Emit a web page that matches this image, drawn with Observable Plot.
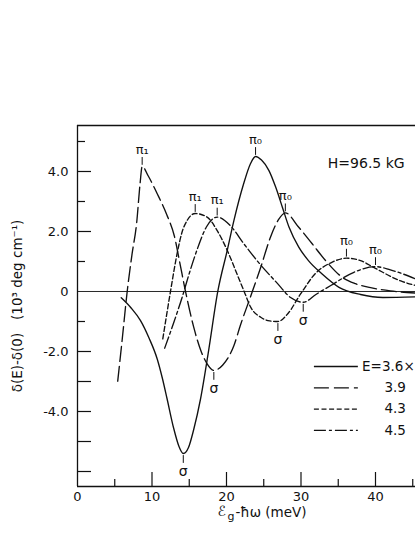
<!DOCTYPE html>
<html>
<head>
<meta charset="utf-8">
<script src="https://cdn.jsdelivr.net/npm/d3@7"></script>
<script src="https://cdn.jsdelivr.net/npm/@observablehq/plot@0.6"></script>
<style>
  html, body { margin: 0; padding: 0; background: #fff; overflow: hidden; }
  #chart svg { display: block; overflow: hidden; }
</style>
</head>
<body>
<div id="chart"></div>
<script>
// ---- data ----
const fieldLabels = ["3.6", "3.9", "4.3", "4.5"];

const e36X = [5.87, 7.2, 8.46, 9.6, 10.7, 11.4, 12.0, 12.9, 13.6, 14.2, 14.9, 15.6, 16.5, 17.6, 18.83, 20.1, 21.0, 22.3, 23.2, 23.9, 24.7, 25.7, 26.6, 27.5, 28.4, 29.7, 31.0, 32.8, 35.1, 38.0, 41.0, 45.4];
const e36Y = [-0.21, -0.55, -0.97, -1.55, -2.25, -2.9, -3.55, -4.55, -5.15, -5.4, -5.2, -4.6, -3.6, -1.97, 0, 1.37, 2.37, 3.59, 4.25, 4.5, 4.38, 4.03, 3.48, 2.81, 2.14, 1.48, 1.03, 0.59, 0.14, -0.1, -0.2, -0.18];

const e39X = [5.4, 6.0, 6.67, 7.33, 7.93, 8.4, 8.68, 9.5, 10.7, 12.0, 13.0, 13.7, 14.5, 15.6, 16.6, 17.4, 18.3, 19.5, 21.0, 21.9, 23.2, 24.6, 25.9, 27.0, 27.9, 29.7, 31.5, 33.3, 35.5, 37.3, 39.5, 42.0, 45.4];
const e39Y = [-2.99, -1.6, 0, 1.26, 2.26, 3.6, 4.17, 3.85, 3.26, 2.55, 1.85, 1.0, 0, -1.19, -2.0, -2.41, -2.63, -2.45, -1.8, -1.1, -0.19, 0.81, 1.81, 2.4, 2.62, 2.14, 1.59, 1.03, 0.48, 0.26, 0.12, 0.02, -0.05];

const e43X = [11.45, 12.5, 13.4, 14.0, 14.8, 15.8, 17.4, 18.75, 20.1, 21.4, 22.5, 23.2, 24.6, 25.8, 26.9, 28.2, 29.9, 31.9, 34.2, 36.1, 38.0, 39.7, 43.4, 45.4];
const e43Y = [-1.58, 0.03, 1.3, 1.95, 2.4, 2.6, 2.48, 2.03, 1.37, 0.59, -0.08, -0.5, -0.86, -0.98, -1.0, -0.75, -0.1, 0.59, 0.98, 1.11, 1.03, 0.81, 0.35, 0.2];

const e45X = [11.7, 12.9, 14.05, 15.0, 16.06, 17.3, 18.75, 20.5, 22.3, 24.6, 26.8, 28.6, 30.3, 32.0, 34.0, 37.1, 40.0, 42.0, 45.4];
const e45Y = [-1.89, -1.05, -0.19, 0.6, 1.4, 2.15, 2.48, 2.2, 1.6, 0.88, 0.28, -0.2, -0.36, -0.1, 0.2, 0.64, 0.83, 0.72, 0.42];

// extrema labels: which curve, x of the extremum, label
const annotSeries = ["3.6", "3.6", "3.9", "3.9", "3.9", "4.3", "4.3", "4.3", "4.5", "4.5", "4.5"];
const annotX      = [23.9, 14.2, 8.68, 18.3, 27.9, 15.8, 26.9, 36.1, 18.75, 30.3, 40.0];
const annotText   = ["π₀", "σ", "π₁", "σ", "π₀", "π₁", "σ", "π₀", "π₁", "σ", "π₀"];

const xLabelTicks = [0, 10, 20, 30, 40];
const xMinorTicks = [5, 15, 25, 35, 45];
const yLabelTicks = [-4, -2, 0, 2, 4];
const yMinorShort = [5, 3, 1, -1];
const yMinorLong  = [-3, -5, -6];
const xDomain = [0, 45.37];
const yDomain = [-6.5, 5.533];

const fieldText = "H=96.5 kG";
const yTitle = "δ(E)-δ(0)   (10³ deg cm⁻¹)";

// ---- build tables ----
const seriesX = [e36X, e39X, e43X, e45X];
const seriesY = [e36Y, e39Y, e43Y, e45Y];
const dashes = ["none", "15,5", "5,2.6", "12,3,3,3"];
const rows = [];
fieldLabels.forEach((E, i) => seriesX[i].forEach((x, j) => rows.push({E, x, y: seriesY[i][j]})));
const annots = annotX.map((x, i) => {
  const k = fieldLabels.indexOf(annotSeries[i]);
  const j = seriesX[k].indexOf(x);
  return {x, y: seriesY[k][j], text: annotText[i], low: annotText[i] === "σ"};
});

// legend inside the plot (lower right)
const legend = fieldLabels.map((E, i) => ({
  E, dash: dashes[i], x1: 31.8, x2: 37.7, y: -2.5 - i * 0.71,
  text: i === 0 ? "E=" + E + "×" : E, tx: i === 0 ? 38.2 : 41.2
}));

const tickShape = {draw(context, l) { context.moveTo(0, 0); context.lineTo(0, -l); }};
const ink = "#111";

const lineMarks = fieldLabels.map((E, i) =>
  Plot.line(rows.filter(d => d.E === E), {
    x: "x", y: "y", curve: "monotone-x", stroke: ink, strokeWidth: 1.35,
    strokeDasharray: dashes[i] === "none" ? null : dashes[i]
  })
);

const legendMarks = legend.map(d =>
  Plot.ruleY([d], {x1: "x1", x2: "x2", y: "y", stroke: ink, strokeWidth: 1.3,
    strokeDasharray: d.dash === "none" ? null : d.dash})
);

const chart = Plot.plot({
  width: 415,
  height: 537,
  marginLeft: 77,
  marginRight: 0,
  marginTop: 125,
  marginBottom: 51,
  x: {domain: xDomain},
  y: {domain: yDomain},
  style: {fontFamily: "DejaVu Sans, sans-serif", fontSize: "13px", color: "#111", background: "#fff"},
  marks: [
    // frame: top, left, bottom
    Plot.ruleY([yDomain[1]], {stroke: ink, strokeWidth: 1.3}),
    Plot.ruleY([yDomain[0]], {stroke: ink, strokeWidth: 1.3}),
    Plot.ruleX([xDomain[0]], {stroke: ink, strokeWidth: 1.3}),
    // zero line
    Plot.ruleY([0], {stroke: ink, strokeWidth: 0.9}),
    // inward ticks
    Plot.axisX({ticks: xLabelTicks.filter(d => d > 0), tickSize: 14, dy: -14, text: null, label: null, stroke: ink, strokeWidth: 1.2}),
    Plot.axisX({ticks: xMinorTicks, tickSize: 7, dy: -7, text: null, label: null, stroke: ink, strokeWidth: 1.2}),
    Plot.axisY({ticks: yLabelTicks.filter(d => d !== 0), tickSize: 14, dx: 14, text: null, label: null, stroke: ink, strokeWidth: 1.2}),
    Plot.axisY({ticks: yMinorShort, tickSize: 8, dx: 8, text: null, label: null, stroke: ink, strokeWidth: 1.2}),
    Plot.axisY({ticks: yMinorLong, tickSize: 14, dx: 14, text: null, label: null, stroke: ink, strokeWidth: 1.2}),
    // tick labels
    Plot.axisX({ticks: xLabelTicks, tickSize: 0, tickPadding: 5, label: null, fontSize: 13,
      tickFormat: d => String(d), style: {letterSpacing: "1px"}}),
    Plot.axisY({ticks: yLabelTicks, tickSize: 0, tickPadding: 9, label: null, fontSize: 13,
      tickFormat: d => d === 0 ? "0" : d.toFixed(1), style: {letterSpacing: "1.5px"}}),
    // curves
    ...lineMarks,
    // extremum labels
    Plot.vector(annots.filter(d => !d.low), {x: "x", y: "y", length: 7, rotate: 0, anchor: "start", shape: tickShape, dy: -2, stroke: ink, strokeWidth: 1}),
    Plot.vector(annots.filter(d => d.low), {x: "x", y: "y", length: 7, rotate: 180, anchor: "start", shape: tickShape, dy: 2, stroke: ink, strokeWidth: 1}),
    Plot.text(annots.filter(d => !d.low), {x: "x", y: "y", text: "text", dy: -17, fontSize: 13, fill: ink}),
    Plot.text(annots.filter(d => d.low), {x: "x", y: "y", text: "text", dy: 18, fontSize: 14, fill: ink}),
    // field label
    Plot.text([fieldText], {x: 33.6, y: 4.27, text: d => d, textAnchor: "start", fontSize: 14, fill: ink, style: {letterSpacing: "0.6px"}}),
    // legend
    ...legendMarks,
    Plot.text(legend, {x: "tx", y: "y", text: "text", textAnchor: "start", fontSize: 13.5, fill: ink}),
    // axis titles
    Plot.text([yTitle], {frameAnchor: "left", rotate: -90, dx: -60, textAnchor: "middle", text: d => d, fontSize: 13.5, fill: ink, style: {letterSpacing: "0.8px"}}),
    Plot.text(["ℰ"], {frameAnchor: "bottom-left", dx: 140, dy: 29, text: d => d, textAnchor: "start", fontSize: 14, fill: ink}),
    Plot.text(["g"], {frameAnchor: "bottom-left", dx: 150, dy: 33, text: d => d, textAnchor: "start", fontSize: 11, fill: ink}),
    Plot.text(["-ħω (meV)"], {frameAnchor: "bottom-left", dx: 158, dy: 30, text: d => d, textAnchor: "start", fontSize: 13.5, fill: ink, style: {letterSpacing: "1px"}})
  ]
});
document.getElementById("chart").appendChild(chart);
</script>
</body>
</html>
